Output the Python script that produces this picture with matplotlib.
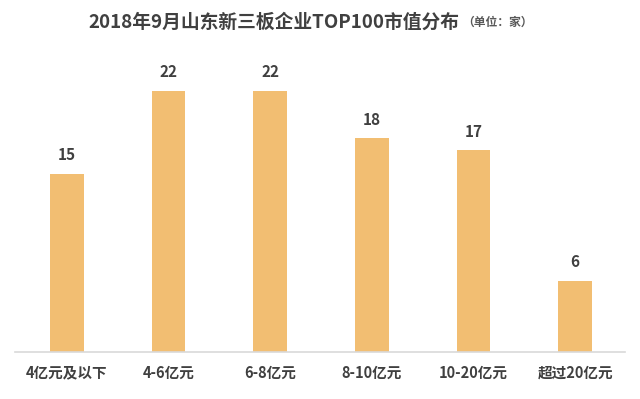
import matplotlib
matplotlib.use("Agg")
import matplotlib.pyplot as plt

plt.rcParams["font.family"] = ["Noto Sans CJK SC", "DejaVu Sans"]

INK = "#404040"
BAR = "#F2BE72"
AXIS = "#D9D9D9"

categories = ["4亿元及以下", "4-6亿元", "6-8亿元", "8-10亿元", "10-20亿元", "超过20亿元"]
counts = [15, 22, 22, 18, 17, 6]

fig = plt.figure(figsize=(6.4, 3.99), dpi=100)
ax = fig.add_axes([15 / 640, 47 / 399, 610 / 640, 312 / 399])

x = range(len(categories))
bars = ax.bar(x, counts, width=0.33, color=BAR, zorder=2)
for rect, v in zip(bars, counts):
    ax.text(rect.get_x() + rect.get_width() / 2, v + 0.9, str(v),
            ha="center", va="bottom", fontsize=11, fontweight="bold", color=INK)

ax.set_xlim(-0.51, 5.49)
ax.set_ylim(0, 26.3)
ax.set_xticks(list(x))
ax.set_xticklabels(categories, fontsize=10.5, fontweight="bold", color=INK)
ax.tick_params(axis="x", length=0, pad=9)
ax.set_yticks([])
for side in ["top", "right", "left"]:
    ax.spines[side].set_visible(False)
ax.spines["bottom"].set_color(AXIS)
ax.spines["bottom"].set_linewidth(1.2)

fig.text(88 / 640, 0.945, "2018年9月山东新三板企业TOP100市值分布", ha="left", va="center",
         fontsize=13.5, fontweight="bold", color=INK)
fig.text(462 / 640, 0.945, "（单位：家）", ha="left", va="center",
         fontsize=8.5, fontweight="bold", color="#595959")

fig.savefig("out.png", dpi=100, facecolor="white")
